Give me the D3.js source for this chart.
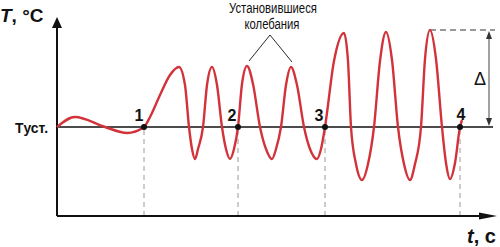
<!DOCTYPE html>
<html>
<head>
<meta charset="utf-8">
<script src="https://cdn.jsdelivr.net/npm/d3@7"></script>
<style>
  html, body { margin: 0; padding: 0; background: #fff; }
  svg { display: block; }
  text { font-family: "Liberation Sans", Arial, sans-serif; }
</style>
</head>
<body>
<svg id="chart" width="500" height="247"></svg>
<script>
// ---- data (time t, deviation from set point T) ----
const curveT = [0, 18, 48, 70, 87, 93, 103, 113, 122, 128, 132, 135, 138, 141, 146, 150, 155, 160, 165, 169, 173, 177, 181, 185, 190, 196, 203, 209, 215, 219, 224, 229, 234, 240, 247, 253, 260, 264, 268, 277, 287, 291, 294, 299, 305, 311, 317, 323, 329, 335, 341, 347, 353, 358, 364, 368, 373, 379, 385, 389, 393, 398, 403, 405];
const curveV = [0, 10, 0, -6, 0, 10, 32, 52, 60, 42, 0, -22, -32, -22, 0, 42, 60, 42, 0, -22, -32, -22, 0, 43, 61, 43, 0, -22, -32, -22, 0, 42, 60, 42, 0, -22, -32, -22, 0, 66, 94, 66, 0, -37, -53, -37, 0, 66, 95, 67, 0, -37, -53, -37, 0, 68, 97, 68, 0, -36, -52, -36, 0, 7];
const pointT = [87, 181, 268, 403];
const pointLabels = ["1", "2", "3", "4"];
const annotatedPeaksT = [190, 234];
const annotatedPeaksV = [61, 60];
const deltaPeakT = 373;
const deltaPeakV = 97;
const yTitle = ["T", ", °C"];
const xTitle = ["t", ", c"];
const setPointLabel = "Tуст.";
const annotationLines = ["Установившиеся", "колебания"];
const deltaLabel = "Δ";

const svg = d3.select("#chart");
const x = d3.scaleLinear().domain([0, 440]).range([57, 497]);
const y = d3.scaleLinear().domain([-89, 110]).range([216, 17]);

const red = "#d2323a";

// set-point line
svg.append("line")
  .attr("x1", x(0)).attr("x2", x(436))
  .attr("y1", y(0)).attr("y2", y(0))
  .attr("stroke", "#111").attr("stroke-width", 1.3);

// dashed verticals from points
svg.selectAll("line.drop").data(pointT).join("line")
  .attr("class", "drop")
  .attr("x1", d => x(d)).attr("x2", d => x(d))
  .attr("y1", y(0) + 3).attr("y2", y(-88))
  .attr("stroke", "#9a9a9a").attr("stroke-width", 1)
  .attr("stroke-dasharray", "5,4");

// axes
svg.append("line")
  .attr("x1", x(0)).attr("x2", x(0))
  .attr("y1", y(-89)).attr("y2", y(99))
  .attr("stroke", "#111").attr("stroke-width", 2);
svg.append("path")
  .attr("d", `M${x(0)},${y(110)} L${x(0) - 5},${y(99)} L${x(0) + 5},${y(99)} Z`)
  .attr("fill", "#111");
svg.append("line")
  .attr("x1", x(0)).attr("x2", x(423))
  .attr("y1", y(-89)).attr("y2", y(-89))
  .attr("stroke", "#111").attr("stroke-width", 2);
svg.append("path")
  .attr("d", `M${x(440)},${y(-89)} L${x(422)},${y(-89) - 3.6} L${x(422)},${y(-89) + 3.6} Z`)
  .attr("fill", "#111");

// delta dimension
svg.append("line")
  .attr("x1", x(deltaPeakT)).attr("x2", x(438))
  .attr("y1", y(deltaPeakV)).attr("y2", y(deltaPeakV))
  .attr("stroke", "#777").attr("stroke-width", 1.5)
  .attr("stroke-dasharray", "6,4");
const dx = x(432);
svg.append("line")
  .attr("x1", dx).attr("x2", dx)
  .attr("y1", y(deltaPeakV) + 4).attr("y2", y(0) - 4)
  .attr("stroke", "#444").attr("stroke-width", 1);
svg.append("path")
  .attr("d", `M${dx},${y(deltaPeakV) + 1} L${dx - 3},${y(deltaPeakV) + 9} L${dx + 3},${y(deltaPeakV) + 9} Z`)
  .attr("fill", "#333");
svg.append("path")
  .attr("d", `M${dx},${y(0) - 1} L${dx - 3},${y(0) - 9} L${dx + 3},${y(0) - 9} Z`)
  .attr("fill", "#333");
svg.append("text")
  .attr("x", dx - 9).attr("y", y(deltaPeakV / 2) + 6)
  .attr("text-anchor", "middle")
  .attr("font-size", 18)
  .attr("fill", "#111")
  .text(deltaLabel);

// annotation leader lines
const apexX = x(213), apexY = 35;
svg.selectAll("line.leader").data(annotatedPeaksT).join("line")
  .attr("class", "leader")
  .attr("x1", apexX).attr("y1", apexY)
  .attr("x2", (d, i) => x(d) + (i === 0 ? 2 : 1))
  .attr("y2", (d, i) => y(annotatedPeaksV[i]) - 5)
  .attr("stroke", "#111").attr("stroke-width", 0.9);

svg.append("text")
  .attr("x", 273).attr("y", 12.5)
  .attr("text-anchor", "middle")
  .attr("font-size", 14)
  .attr("textLength", 88).attr("lengthAdjust", "spacingAndGlyphs")
  .attr("fill", "#111")
  .text(annotationLines[0]);
svg.append("text")
  .attr("x", 272).attr("y", 28.5)
  .attr("text-anchor", "middle")
  .attr("font-size", 14)
  .attr("textLength", 55).attr("lengthAdjust", "spacingAndGlyphs")
  .attr("fill", "#111")
  .text(annotationLines[1]);

// curve
const line = d3.line()
  .x((d, i) => x(curveT[i]))
  .y((d, i) => y(curveV[i]))
  .curve(d3.curveMonotoneX);
svg.append("path")
  .datum(curveT)
  .attr("d", line)
  .attr("fill", "none")
  .attr("stroke", red)
  .attr("stroke-width", 2.4)
  .attr("stroke-linejoin", "round");

// points
svg.selectAll("circle.pt").data(pointT).join("circle")
  .attr("class", "pt")
  .attr("cx", d => x(d)).attr("cy", y(0)).attr("r", 3)
  .attr("fill", "#111");
const labelOffsets = [-5, -6, -6, 1];
svg.selectAll("text.pl").data(pointT).join("text")
  .attr("class", "pl")
  .attr("x", (d, i) => x(d) + labelOffsets[i])
  .attr("y", (d, i) => y(0) - (i === 3 ? 7 : 6))
  .attr("text-anchor", "middle")
  .attr("font-size", 16).attr("font-weight", "bold")
  .attr("fill", "#111")
  .text((d, i) => pointLabels[i]);

// axis titles
const yt = svg.append("text").attr("x", 0).attr("y", 22)
  .attr("font-size", 19).attr("font-weight", "bold").attr("fill", "#111");
yt.append("tspan").attr("font-style", "italic").text(yTitle[0]);
yt.append("tspan").text(yTitle[1]);

const xt = svg.append("text").attr("x", 467).attr("y", 243)
  .attr("font-size", 20).attr("font-weight", "bold").attr("fill", "#111");
xt.append("tspan").attr("font-style", "italic").text(xTitle[0]);
xt.append("tspan").text(xTitle[1]);

svg.append("text")
  .attr("x", 15).attr("y", 133)
  .attr("font-size", 15).attr("font-weight", "bold")
  .attr("textLength", 33).attr("lengthAdjust", "spacingAndGlyphs")
  .attr("fill", "#111")
  .text(setPointLabel);
</script>
</body>
</html>
